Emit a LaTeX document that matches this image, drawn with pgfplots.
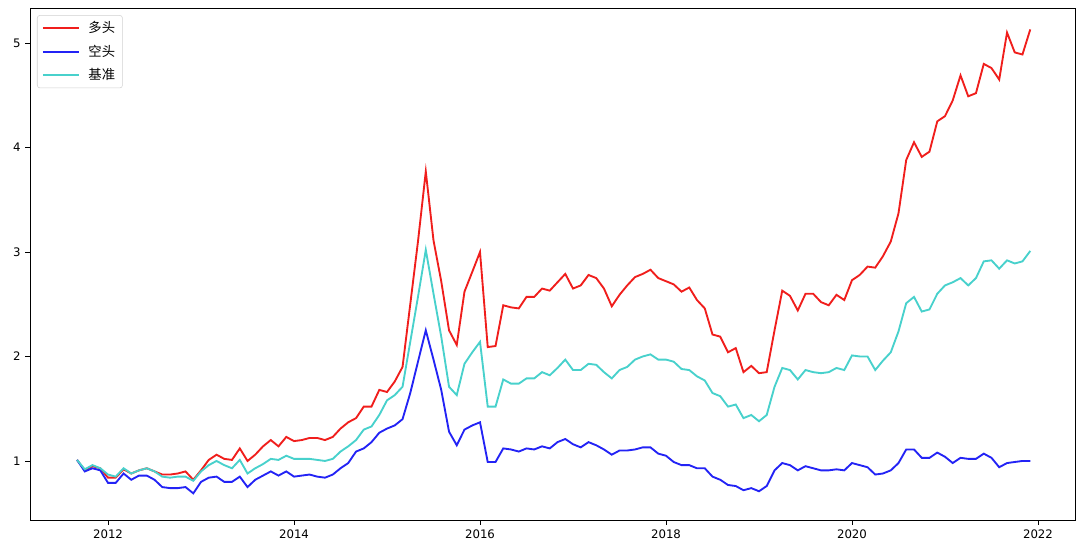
\documentclass[border=0pt]{standalone}
\usepackage{fontspec}
\setmainfont{DejaVu Sans}
\newfontfamily\cjk{Noto Sans CJK SC}
\usepackage{pgfplots}
\usepackage{pgfplotstable}
\pgfplotsset{compat=1.18}
\definecolor{lnred}{RGB}{240,30,28}
\definecolor{lnblue}{RGB}{35,35,245}
\definecolor{lncyan}{RGB}{72,209,204}
\pgfplotstableread{
t red blue cyan
2011.667 1.01 1.01 1.01
2011.750 0.91 0.90 0.92
2011.833 0.95 0.93 0.96
2011.917 0.93 0.91 0.93
2012.000 0.84 0.79 0.87
2012.083 0.84 0.79 0.85
2012.167 0.92 0.88 0.93
2012.250 0.88 0.82 0.88
2012.333 0.91 0.86 0.91
2012.417 0.93 0.86 0.93
2012.500 0.90 0.82 0.90
2012.583 0.87 0.75 0.85
2012.667 0.87 0.74 0.84
2012.750 0.88 0.74 0.85
2012.833 0.90 0.75 0.85
2012.917 0.82 0.69 0.81
2013.000 0.91 0.80 0.90
2013.083 1.01 0.84 0.96
2013.167 1.06 0.85 1.00
2013.250 1.02 0.80 0.96
2013.333 1.01 0.80 0.93
2013.417 1.12 0.85 1.01
2013.500 1.00 0.75 0.88
2013.583 1.06 0.82 0.93
2013.667 1.14 0.86 0.97
2013.750 1.20 0.90 1.02
2013.833 1.14 0.86 1.01
2013.917 1.23 0.90 1.05
2014.000 1.19 0.85 1.02
2014.083 1.20 0.86 1.02
2014.167 1.22 0.87 1.02
2014.250 1.22 0.85 1.01
2014.333 1.20 0.84 1.00
2014.417 1.23 0.87 1.02
2014.500 1.31 0.93 1.09
2014.583 1.37 0.98 1.14
2014.667 1.41 1.09 1.20
2014.750 1.52 1.12 1.30
2014.833 1.52 1.18 1.33
2014.917 1.68 1.27 1.44
2015.000 1.66 1.31 1.58
2015.083 1.76 1.34 1.63
2015.167 1.90 1.40 1.71
2015.250 2.50 1.65 2.14
2015.333 3.10 1.95 2.57
2015.417 3.77 2.25 3.02
2015.500 3.11 1.97 2.60
2015.583 2.72 1.68 2.19
2015.667 2.25 1.28 1.71
2015.750 2.11 1.15 1.63
2015.833 2.62 1.30 1.93
2015.917 2.81 1.34 2.04
2016.000 3.00 1.37 2.14
2016.083 2.09 0.99 1.52
2016.167 2.10 0.99 1.52
2016.250 2.49 1.12 1.78
2016.333 2.47 1.11 1.74
2016.417 2.46 1.09 1.74
2016.500 2.57 1.12 1.79
2016.583 2.57 1.11 1.79
2016.667 2.65 1.14 1.85
2016.750 2.63 1.12 1.82
2016.833 2.71 1.18 1.89
2016.917 2.79 1.21 1.97
2017.000 2.65 1.16 1.87
2017.083 2.68 1.13 1.87
2017.167 2.78 1.18 1.93
2017.250 2.75 1.15 1.92
2017.333 2.65 1.11 1.85
2017.417 2.48 1.06 1.79
2017.500 2.59 1.10 1.87
2017.583 2.68 1.10 1.90
2017.667 2.76 1.11 1.97
2017.750 2.79 1.13 2.00
2017.833 2.83 1.13 2.02
2017.917 2.75 1.07 1.97
2018.000 2.72 1.05 1.97
2018.083 2.69 0.99 1.95
2018.167 2.62 0.96 1.88
2018.250 2.66 0.96 1.87
2018.333 2.54 0.93 1.81
2018.417 2.46 0.93 1.77
2018.500 2.21 0.85 1.65
2018.583 2.19 0.82 1.62
2018.667 2.04 0.77 1.52
2018.750 2.08 0.76 1.54
2018.833 1.85 0.72 1.41
2018.917 1.91 0.74 1.44
2019.000 1.84 0.71 1.38
2019.083 1.85 0.76 1.44
2019.167 2.25 0.91 1.71
2019.250 2.63 0.98 1.89
2019.333 2.58 0.96 1.87
2019.417 2.44 0.91 1.78
2019.500 2.60 0.95 1.87
2019.583 2.60 0.93 1.85
2019.667 2.52 0.91 1.84
2019.750 2.49 0.91 1.85
2019.833 2.59 0.92 1.89
2019.917 2.54 0.91 1.87
2020.000 2.73 0.98 2.01
2020.083 2.78 0.96 2.00
2020.167 2.86 0.94 2.00
2020.250 2.85 0.87 1.87
2020.333 2.96 0.88 1.96
2020.417 3.10 0.91 2.04
2020.500 3.37 0.98 2.24
2020.583 3.88 1.11 2.51
2020.667 4.05 1.11 2.57
2020.750 3.91 1.03 2.43
2020.833 3.96 1.03 2.45
2020.917 4.25 1.08 2.60
2021.000 4.30 1.04 2.68
2021.083 4.45 0.98 2.71
2021.167 4.69 1.03 2.75
2021.250 4.49 1.02 2.68
2021.333 4.52 1.02 2.75
2021.417 4.80 1.07 2.91
2021.500 4.76 1.03 2.92
2021.583 4.65 0.94 2.84
2021.667 5.10 0.98 2.92
2021.750 4.91 0.99 2.89
2021.833 4.89 1.00 2.91
2021.917 5.13 1.00 3.01
}\datatable
\begin{document}
\begin{tikzpicture}
\useasboundingbox (-22.5pt,-24pt) rectangle (789.75pt,390pt);
\begin{axis}[
  at={(0pt,0pt)}, anchor=south west,
  scale only axis, width=783.75pt, height=384pt,
  xmin=2011.161, xmax=2022.398, ymin=0.435, ymax=5.335,
  xtick={2012,2014,2016,2018,2020,2022},
  ytick={1,2,3,4,5},
  x tick label style={/pgf/number format/1000 sep={}},
  /pgf/number format/assume math mode=true,
  ticklabel style={font=\fontsize{8.8}{10}\selectfont},
  tick align=outside, xtick pos=bottom, ytick pos=left,
  major tick length=3.5pt,
  tick style={black, line width=0.6pt},
  axis line style={line width=0.7pt},
  legend style={at={(0.0067,0.986)}, anchor=north west,
    draw=black!18, rounded corners=2pt, fill=white,
    font=\cjk\fontsize{10}{11}\selectfont,
    row sep=3.8pt, column sep=4.5pt, inner xsep=3.5pt, inner ysep=2.5pt},
  legend cell align=left,
  legend image code/.code={\draw[#1] (0pt,0pt) -- (27pt,0pt);},
]
\addplot[color=lnred, line width=1.4pt] table[x=t, y=red] {\datatable};
\addlegendentry{多头}
\addplot[color=lnblue, line width=1.4pt] table[x=t, y=blue] {\datatable};
\addlegendentry{空头}
\addplot[color=lncyan, line width=1.4pt] table[x=t, y=cyan] {\datatable};
\addlegendentry{基准}
\end{axis}
\end{tikzpicture}
\end{document}
